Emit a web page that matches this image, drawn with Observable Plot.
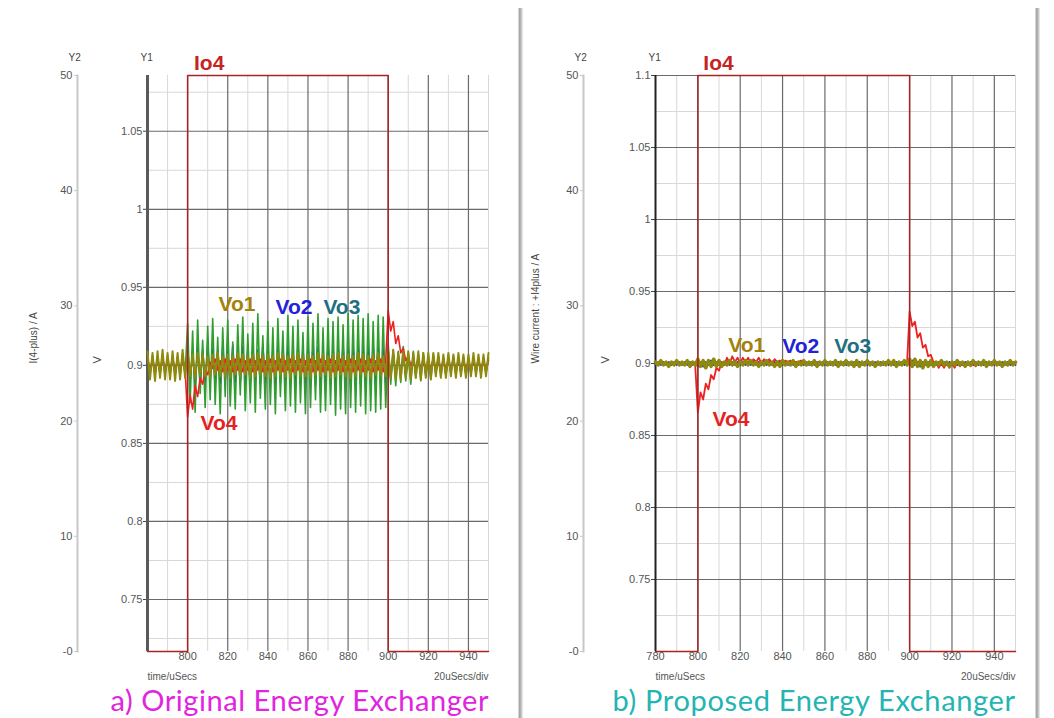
<!DOCTYPE html>
<html><head><meta charset="utf-8">
<script src="https://cdn.jsdelivr.net/npm/d3@7"></script>
<script src="https://cdn.jsdelivr.net/npm/@observablehq/plot@0.6"></script>
<style>
html,body{margin:0;padding:0;background:#fff;}
#page{position:relative;width:1054px;height:718px;overflow:hidden;background:#fff;}
.layer{position:absolute;top:0;}
.shadow{position:absolute;top:8px;bottom:0;width:5px;background:linear-gradient(to right,#ececec,#a0a0a0,#c4c4c4,#f2f2f2);}
</style></head><body><div id="page"></div>
<script>
// ---------------- data ----------------
// sample times: T0 + i*DT (us); values: deviation from 0.9 V in mV
const T0 = 780, DT = 1.25, VBASE = 0.9;

const leftVo1 = [9,-9,8,-10,9,-8,10,-9,8,-9,9,-10,8,-9,10,-8,
 8,-7,7,-8,8,-6,7,-7,6,-8, 7,-6,8,-7,6,-7,7,-8,6,-6, 8,-7,7,-6,6,-8,7,-7,8,-6, 6,-7,7,-8,6,-7,8,-6,7,-7,
 6,-8,7,-6,8,-7,6,-7,7,-8, 6,-6,8,-7,7,-6,6,-8,7,-7, 8,-6,6,-7,7,-8,6,-7,8,-6, 7,-7,6,-8,7,-6,8,-7,6,-7,
 9,-8,10,-9,8,-9,9,-8,9,-9, 8,-8,9,-9,8,-8,8,-9,8,-7, 8,-8,7,-8,8,-7,7,-8,8,-7, 7,-8,7,-7,8,-7,7,-8,7,-7,8];
const leftVo2 = [5,-6,6,-5,5,-6,6,-5,5,-6,6,-5,5,-6,6,-5,
 12,-10,9,-13,11,-12,10,-11,13,-9, 11,-13,10,-12,12,-10,9,-12,13,-11, 10,-12,12,-11,11,-13,12,-10,10,-12, 13,-11,11,-12,10,-13,12,-11,11,-10,
 12,-12,10,-13,13,-11,11,-12,12,-10, 11,-13,12,-11,10,-12,13,-12,11,-13, 12,-11,13,-12,11,-13,12,-11,13,-12, 11,-12,12,-13,13,-11,12,-12,11,-13,
 7,-8,8,-7,7,-6,7,-7,6,-7, 6,-6,7,-6,6,-6,5,-6,6,-5, 6,-5,5,-6,5,-5,6,-5,5,-5, 5,-6,5,-5,5,-5,4,-5,5,-4,5];
const leftVo3 = [6,-5,5,-6,6,-5,5,-6,6,-5,5,-6,6,-5,5,-6,
 27,-24,22,-30,29,-18,16,-27,25,-22, 30,-25,18,-31,24,-20,29,-26,15,-28, 26,-19,31,-29,20,-24,27,-30,33,-21, 19,-28,28,-25,24,-31,30,-20,22,-29,
 32,-26,25,-30,29,-24,21,-31,31,-27, 27,-22,33,-30,24,-29,30,-25,28,-32, 31,-28,26,-31,33,-27,29,-30,32,-26, 30,-31,33,-29,28,-30,32,-28,31,-27,
 14,-12,10,-13,9,-11,12,-10,8,-12, 9,-8,7,-10,8,-7,6,-9,7,-6, 6,-7,5,-6,6,-5,5,-6,5,-5, 5,-6,4,-5,5,-4,5,-5,4,-5,4];
const leftVo4 = [4,-4,3,-5,4,-3,5,-4,3,-4,4,-5,3,-4,4,-3,
 -33,-19,-28,-13,-20,-8,-12,-3,-6,2, -2,4,-3,3,-4,4,-3,3,-4,4, -3,4,-4,3,-3,4,-4,3,-3,4, -4,3,-3,4,-4,3,-3,4,-4,3,
 -3,4,-4,3,-3,4,-4,3,-3,4, -4,3,-3,4,-4,3,-3,4,-4,3, -3,4,-4,3,-3,4,-4,3,-3,4, -4,3,-3,4,-4,3,-3,4,-4,3,
 35,22,28,14,19,8,11,3,6,0, 3,-3,4,-3,3,-4,3,-3,4,-3, 3,-4,3,-3,4,-3,3,-4,3,-3, 4,-3,3,-4,3,-3,4,-3,3,-4,3];

const rightVo1 = [1,-1,2,-1,1,-2,1,-1,2,-1,1,-1,2,-2,1,-1,
 3,-2,2,-3,2,-2,3,-2,2,-2,
 1,-1,2,-1,1,-2,1,-1,2,-1, 2,-1,1,-2,1,-1,2,-1,1,-2, 1,-2,2,-1,1,-1,2,-2,1,-1, 2,-1,1,-1,2,-2,1,-1,2,-1,
 1,-1,2,-2,1,-1,2,-1,1,-2, 2,-2,1,-1,2,-1,1,-2,1,-1, 1,-1,2,-1,2,-2,1,-1,2,-1,
 3,-2,3,-2,2,-3,2,-2,2,-2,
 1,-1,2,-1,1,-2,1,-1,2,-1, 1,-2,1,-1,2,-1,1,-1,2,-2, 1,-1,2,-1,1,-2,1,-1,2,-1,1];
const rightVo2 = [-1,1,-1,1,-1,1,-1,1,-1,1,-1,1,-1,1,-1,1,
 -2,1,-2,1,-1,2,-1,1,-1,1,
 -1,1,-1,1,-1,1,-1,1,-1,1, -1,1,-1,1,-1,1,-1,1,-1,1, -1,1,-1,1,-1,1,-1,1,-1,1, -1,1,-1,1,-1,1,-1,1,-1,1,
 -1,1,-1,1,-1,1,-1,1,-1,1, -1,1,-1,1,-1,1,-1,1,-1,1, -1,1,-1,1,-1,1,-1,1,-1,1,
 -1,2,-1,1,-2,1,-1,1,-1,1,
 -1,1,-1,1,-1,1,-1,1,-1,1, -1,1,-1,1,-1,1,-1,1,-1,1, -1,1,-1,1,-1,1,-1,1,-1,1,-1];
const rightVo3 = [1,-1,1,-1,1,-1,1,-1,1,-1,1,-1,1,-1,1,-1,
 2,-1,1,-2,1,-1,1,-1,2,-1,
 1,-1,1,-1,1,-1,1,-1,1,-1, 1,-1,1,-1,1,-1,1,-1,1,-1, 1,-1,1,-1,1,-1,1,-1,1,-1, 1,-1,1,-1,1,-1,1,-1,1,-1,
 1,-1,1,-1,1,-1,1,-1,1,-1, 1,-1,1,-1,1,-1,1,-1,1,-1, 1,-1,1,-1,1,-1,1,-1,1,-1,
 2,-1,1,-1,2,-1,1,-1,1,-1,
 1,-1,1,-1,1,-1,1,-1,1,-1, 1,-1,1,-1,1,-1,1,-1,1,-1, 1,-1,1,-1,1,-1,1,-1,1,-1,1];
const rightVo4 = [1,-1,1,-1,1,-1,1,-1,1,-1,1,-1,1,-1,1,-1,
 -34,-20,-25,-14,-18,-8,-11,-3,-5,1, -1,4,0,5,1,4,0,4,1,4, 0,3,1,4,0,3,1,3,0,3, 1,2,0,2,1,2,0,1,1,2,
 1,-1,1,-1,1,-1,1,-1,1,-1, 1,-1,1,-1,1,-1,1,-1,1,-1, 1,-1,1,-1,1,-1,1,-1,1,-1, 1,-1,1,-1,1,-1,1,-1,1,-1,
 36,26,29,18,21,11,13,5,6,1, 1,-3,0,-3,1,-3,0,-3,1,-2, 0,-2,1,-2,0,-2,1,-1,0,-1, 1,-1,0,-1,1,-1,0,-1,1,-1,0];

// Io4 step current (A)
const ioTime = [780, 800, 800, 900, 900, 950];
const ioCurrent = [0, 0, 50, 50, 0, 0];

// labels
const traceNames = ["Vo1", "Vo2", "Vo3", "Vo4"];
const traceColors = ["#8f8a0c", "#2430e0", "#2f9e2f", "#ee2020"];
const labelColors = ["#a3820c", "#2222d8", "#1e6f80", "#e52222"];
const leftLabelT = [815.4, 843.8, 867.7, 806.4];
const leftLabelV = [0.939, 0.9375, 0.9375, 0.8628];
const rightLabelT = [814.4, 839.9, 864.4, 806.9];
const rightLabelV = [0.9124, 0.912, 0.912, 0.8613];
const ioLabelT = {left: 803.2, right: 802.6};

// axes / ticks
const xDomain = [780, 950];
const xMajor = [800, 820, 840, 860, 880, 900, 920, 940];
const xMinor = [790, 810, 830, 850, 870, 890, 910, 930, 950];
const leftXTicks = [800, 820, 840, 860, 880, 900, 920, 940];
const rightXTicks = [780, 800, 820, 840, 860, 880, 900, 920, 940];
const leftVDomain = [0.7167, 1.0857];
const rightVDomain = [0.7, 1.1];
const leftVMajor = [0.75, 0.8, 0.85, 0.9, 0.95, 1, 1.05];
const leftVMinor = [0.725, 0.775, 0.825, 0.875, 0.925, 0.975, 1.025, 1.075];
const rightVMajor = [0.75, 0.8, 0.85, 0.9, 0.95, 1, 1.05, 1.1];
const rightVMinor = [0.725, 0.775, 0.825, 0.875, 0.925, 0.975, 1.025, 1.075];
const leftVTicks = [0.75, 0.8, 0.85, 0.9, 0.95, 1, 1.05];
const rightVTicks = [0.75, 0.8, 0.85, 0.9, 0.95, 1, 1.05, 1.1];
const y2Domain = [0, 50];
const y2Ticks = [0, 10, 20, 30, 40, 50];

// ---------------- drawing ----------------
const toPoints = (mv) => mv.map((d, i) => ({t: T0 + i * DT, v: VBASE + d / 1000}));
const ioData = ioTime.map((t, i) => ({t, a: ioCurrent[i]}));
const FONT = "'Liberation Sans', Arial, sans-serif";
const fmtV = d => String(+d.toFixed(3));

function panel(cfg) {
  const {left, width, plotLeft, plotRight, y2x, series, vDomain, vMajor, vMinor, vTicks, xTicks,
         labelT, labelV, axisColor, axisWidth, widths, caption, captionColor, captionX, captionSpacing, y2Title, y2TitleX, ioT} = cfg;
  const mL = plotLeft - left, mR = left + width - plotRight, mT = 75, mB = 67;
  // draw order: Vo2, Vo3, Vo4, then Vo1 on top
  const ordered = [1, 2, 3, 0].map(k =>
    Plot.line(toPoints(series[k]), {x: "t", y: "v", stroke: traceColors[k], strokeWidth: widths[k], strokeLinejoin: "round"}));
  const labels = traceNames.map((n, i) => ({n, t: labelT[i], v: labelV[i], c: labelColors[i]}));
  const main = Plot.plot({
    width, height: 718, marginLeft: mL, marginRight: mR, marginTop: mT, marginBottom: mB,
    style: {fontFamily: FONT, fontSize: "11px", color: "#555", background: "none", overflow: "visible"},
    x: {domain: xDomain},
    y: {domain: vDomain},
    marks: [
      Plot.gridX(xMinor, {stroke: "#d8d8d8", strokeOpacity: 1, strokeWidth: 1}),
      Plot.gridY(vMinor, {stroke: "#d8d8d8", strokeOpacity: 1, strokeWidth: 1}),
      Plot.gridX(xMajor, {stroke: "#6a6a6a", strokeOpacity: 1, strokeWidth: 1.2}),
      Plot.gridY(vMajor, {stroke: "#6a6a6a", strokeOpacity: 1, strokeWidth: 1.2}),
      Plot.axisX(xTicks, {tickSize: 0, tickPadding: 1, tickFormat: d => String(d), label: null, fill: "#555"}),
      Plot.axisY(vTicks, {tickSize: 4, tickPadding: 1, tickFormat: fmtV, label: null, fill: "#555", stroke: "#444"}),
      Plot.ruleX([xDomain[0]], {stroke: axisColor, strokeWidth: axisWidth}),
      ...ordered,
      Plot.text(labels, {x: "t", y: "v", text: "n", fill: "c", textAnchor: "start", fontSize: 21, fontWeight: "bold", fontFamily: FONT}),
      Plot.text(["Y1"], {frameAnchor: "top-left", dx: -7, dy: -22, fontSize: 10, fill: "#444"}),
      Plot.text(["V"], {frameAnchor: "left", dx: -50, rotate: -90, fontSize: 11, fill: "#444"}),
      Plot.text(["time/uSecs"], {frameAnchor: "bottom-left", dy: 28.5, textAnchor: "start", fontSize: 10, fill: "#555"}),
      Plot.text(["20uSecs/div"], {frameAnchor: "bottom-right", dy: 28.5, textAnchor: "end", fontSize: 10, fill: "#555"}),
      Plot.text([caption], {frameAnchor: "bottom-left", dx: captionX - plotLeft, dy: 59.5, textAnchor: "start", fontSize: 29, fontFamily: "Lato, 'Open Sans', sans-serif", fill: captionColor})
    ]
  });
  main.querySelectorAll("text").forEach(t => { if (t.textContent === caption) t.style.letterSpacing = captionSpacing + "px"; });
  const over = Plot.plot({
    width, height: 718, marginLeft: y2x - left, marginRight: mR, marginTop: mT, marginBottom: mB,
    style: {fontFamily: FONT, fontSize: "11px", color: "#555", background: "none", overflow: "visible"},
    x: {domain: xDomain, range: [mL, width - mR], axis: null},
    y: {domain: y2Domain, axis: null},
    marks: [
      Plot.frame({anchor: "left", stroke: "#c8c8c8", strokeWidth: 2}),
      Plot.axisY(y2Ticks, {tickSize: 3, tickPadding: 2, tickFormat: d => d === 0 ? "-0" : String(d), label: null, fill: "#555", stroke: "#c8c8c8"}),
      Plot.line(ioData, {x: "t", y: "a", stroke: "#a82424", strokeWidth: 1.5}),
      Plot.text(["Io4"], {x: [ioT], frameAnchor: "top", dy: -20, textAnchor: "start", fontSize: 21, fontWeight: "bold", fill: "#c62424"}),
      Plot.text(["Y2"], {frameAnchor: "top-left", dx: -9, dy: -22, fontSize: 10, fill: "#444"}),
      Plot.text([y2Title], {frameAnchor: "left", dx: y2TitleX - y2x, rotate: -90, fontSize: 10, fill: "#444"})
    ]
  });
  for (const svg of [main, over]) {
    svg.classList.add("layer");
    svg.style.left = left + "px";
    svg.style.maxWidth = "none";
  }
  return [main, over];
}

const page = document.getElementById("page");
const leftPanel = panel({
  left: 0, width: 520, plotLeft: 147, plotRight: 488, y2x: 77,
  series: [leftVo1, leftVo2, leftVo3, leftVo4], vDomain: leftVDomain, vMajor: leftVMajor, vMinor: leftVMinor, vTicks: leftVTicks,
  xTicks: leftXTicks, labelT: leftLabelT, labelV: leftLabelV, axisColor: "#5a5a5a", axisWidth: 3, widths: [2, 1.5, 1.6, 1.6],
  caption: "a) Original Energy Exchanger", captionColor: "#e024e0", captionX: 110, captionSpacing: 0.55,
  y2Title: "I(4-plus) / A", y2TitleX: 33, ioT: ioLabelT.left
});
const rightPanel = panel({
  left: 520, width: 534, plotLeft: 655, plotRight: 1015, y2x: 583,
  series: [rightVo1, rightVo2, rightVo3, rightVo4], vDomain: rightVDomain, vMajor: rightVMajor, vMinor: rightVMinor, vTicks: rightVTicks,
  xTicks: rightXTicks, labelT: rightLabelT, labelV: rightLabelV, axisColor: "#222", axisWidth: 2, widths: [3.5, 2, 2, 1.8],
  caption: "b) Proposed Energy Exchanger", captionColor: "#24b4b4", captionX: 612, captionSpacing: 0.65,
  y2Title: "Wire current : +I4plus / A", y2TitleX: 535, ioT: ioLabelT.right
});
for (const el of [...leftPanel, ...rightPanel]) page.appendChild(el);
for (const x of [518, 1035]) {
  const s = document.createElement("div");
  s.className = "shadow";
  s.style.left = x + "px";
  page.appendChild(s);
}
</script></body></html>
